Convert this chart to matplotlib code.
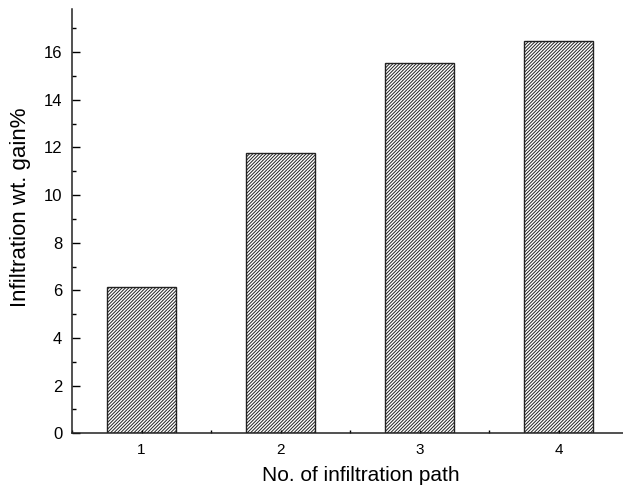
import matplotlib.pyplot as plt
from matplotlib.ticker import MultipleLocator

plt.rcParams['font.family'] = ['Liberation Sans', 'DejaVu Sans']
plt.rcParams['hatch.linewidth'] = 0.7
plt.rcParams['hatch.color'] = '#222222'

paths = [1, 2, 3, 4]
gain = [6.13, 11.76, 15.54, 16.49]

fig = plt.figure(figsize=(6.23, 4.94), dpi=100)
ax = fig.add_axes([72 / 623, (494 - 433.3) / 494, 556 / 623, 424 / 494])

ax.bar(paths, gain, width=0.5, color='white', edgecolor='#222222',
       linewidth=1.0, hatch='/' * 10)

ax.set_xlim(0.5, 4.5)
ax.set_ylim(0, 17.8)
ax.set_xticks(paths)
ax.xaxis.set_minor_locator(MultipleLocator(0.5))
ax.set_yticks(range(0, 17, 2))
ax.yaxis.set_minor_locator(MultipleLocator(1))

ax.spines['top'].set_visible(False)
ax.spines['right'].set_visible(False)
for s in ['left', 'bottom']:
    ax.spines[s].set_linewidth(1.1)
    ax.spines[s].set_color('#222222')

ax.tick_params(axis='y', which='major', direction='in', length=6, width=1, labelsize=12, pad=7)
ax.tick_params(axis='y', which='minor', direction='in', length=3, width=1)
ax.tick_params(axis='x', which='both', direction='in', length=2.5, width=1, labelsize=11, pad=7)

ax.set_xlabel('No. of infiltration path', fontsize=15)
ax.set_ylabel('Infiltration wt. gain%', fontsize=16)
ax.xaxis.set_label_coords((361 - 72) / 556, -0.078)
ax.yaxis.set_label_coords((31 - 72) / 556, 0.534)

fig.savefig('out.png', dpi=100)
